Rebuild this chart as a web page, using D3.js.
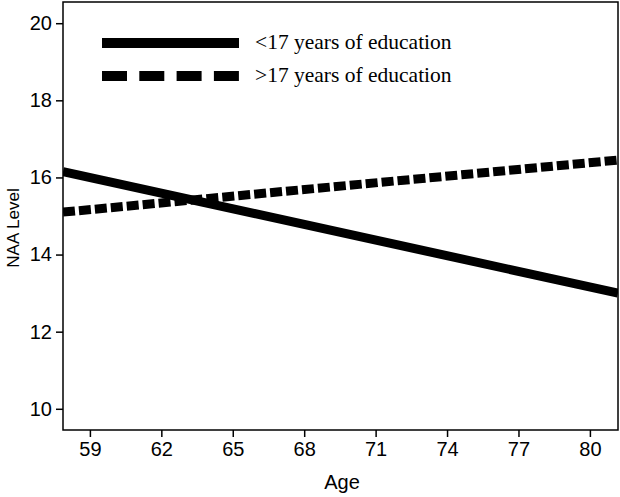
<!DOCTYPE html>
<html>
<head>
<meta charset="utf-8">
<script src="https://cdn.jsdelivr.net/npm/d3@7"></script>
<style>
  body { margin: 0; background: #fff; }
  svg { display: block; }
</style>
</head>
<body>
<svg id="chart" width="620" height="497"></svg>
<script>
// values
const ageTicks = [59, 62, 65, 68, 71, 74, 77, 80];
const naaTicks = [10, 12, 14, 16, 18, 20];
const seriesNames = ["<17 years of education", ">17 years of education"];
const lowEduAge = [57.87, 81.18];
const lowEduNaa = [16.15, 13.0];
const highEduAge = [57.87, 81.18];
const highEduNaa = [15.1, 16.45];

const svg = d3.select("#chart");
const margin = { top: 2, right: 2, bottom: 67, left: 63 };
const width = 620 - margin.left - margin.right,
  height = 497 - margin.top - margin.bottom;

const x = d3.scaleLinear().domain([57.87, 81.18]).range([margin.left, margin.left + width]);
const y = d3.scaleLinear().domain([9.45, 20.55]).range([margin.top + height, margin.top]);

const sans = "'Liberation Sans', Arial, sans-serif";
const serif = "'Liberation Serif', 'Times New Roman', serif";

// axes
const xAxis = svg
  .append("g")
  .attr("transform", `translate(0,${margin.top + height})`)
  .call(d3.axisBottom(x).tickValues(ageTicks).tickSize(7).tickPadding(5).tickSizeOuter(0));

const yAxis = svg
  .append("g")
  .attr("transform", `translate(${margin.left},0)`)
  .call(d3.axisLeft(y).tickValues(naaTicks).tickSize(7).tickPadding(4).tickSizeOuter(0));

[xAxis, yAxis].forEach((g) => {
  g.select(".domain").remove();
  g.selectAll("line").attr("stroke", "#000").attr("stroke-width", 1.5);
  g.selectAll("text")
    .attr("font-family", sans)
    .attr("font-size", 20)
    .attr("fill", "#000");
});

// frame
svg
  .append("rect")
  .attr("x", margin.left)
  .attr("y", margin.top)
  .attr("width", width)
  .attr("height", height)
  .attr("fill", "none")
  .attr("stroke", "#000")
  .attr("stroke-width", 1.5);

svg
  .append("clipPath")
  .attr("id", "plot-clip")
  .append("rect")
  .attr("x", margin.left)
  .attr("y", margin.top)
  .attr("width", width)
  .attr("height", height);

const line = d3
  .line()
  .x((d) => x(d[0]))
  .y((d) => y(d[1]));

const plot = svg.append("g").attr("clip-path", "url(#plot-clip)");

plot
  .append("path")
  .attr("d", line(d3.zip(lowEduAge, lowEduNaa)))
  .attr("fill", "none")
  .attr("stroke", "#000")
  .attr("stroke-width", 9);

plot
  .append("path")
  .attr("d", line(d3.zip(highEduAge, highEduNaa)))
  .attr("fill", "none")
  .attr("stroke", "#000")
  .attr("stroke-width", 9)
  .attr("stroke-dasharray", "12,4");

// legend
const legend = svg.append("g").attr("transform", "translate(102,43)");
seriesNames.forEach((name, i) => {
  const row = legend.append("g").attr("transform", `translate(0,${i * 33})`);
  row
    .append("line")
    .attr("x1", 0)
    .attr("x2", 137)
    .attr("stroke", "#000")
    .attr("stroke-width", 10)
    .attr("stroke-dasharray", i === 0 ? null : "25,12.3");
  row
    .append("text")
    .attr("x", 153)
    .attr("y", 6)
    .attr("font-family", serif)
    .attr("font-size", 21.5)
    .attr("fill", "#000")
    .text(name);
});

// axis titles
svg
  .append("text")
  .attr("x", 342)
  .attr("y", 489)
  .attr("text-anchor", "middle")
  .attr("font-family", sans)
  .attr("font-size", 20)
  .attr("fill", "#000")
  .text("Age");

svg
  .append("text")
  .attr("transform", "translate(19,228) rotate(-90)")
  .attr("text-anchor", "middle")
  .attr("font-family", sans)
  .attr("font-size", 17)
  .attr("fill", "#000")
  .text("NAA Level");
</script>
</body>
</html>
